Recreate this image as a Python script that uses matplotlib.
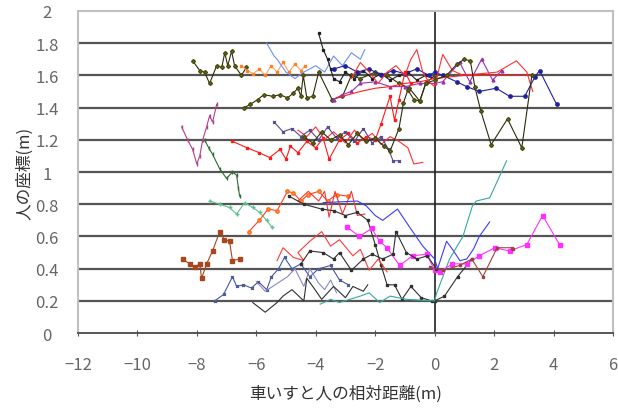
import matplotlib
matplotlib.use("Agg")
import matplotlib.pyplot as plt

plt.rcParams['font.family'] = ['Noto Sans CJK JP', 'DejaVu Sans']

# ---- data ----
olive_top_x = [-8.14, -7.9, -7.74, -7.57, -7.33, -7.16, -7.06, -6.96, -6.83, -6.73, -6.5, -6.33]
olive_top_y = [1.69, 1.63, 1.62, 1.55, 1.66, 1.65, 1.74, 1.66, 1.75, 1.66, 1.60, 1.65]

orange_x = [-6.5, -6.3, -6.1, -5.9, -5.7, -5.5, -5.3, -5.1, -4.9, -4.7, -4.5, -4.35]
orange_y = [1.66, 1.63, 1.61, 1.64, 1.60, 1.66, 1.62, 1.68, 1.62, 1.67, 1.63, 1.66]

lblue_x = [-5.65, -5.4, -5.3, -5.0, -4.7, -4.4, -4.0, -3.7, -3.4, -3.1, -2.8, -2.5, -2.35]
lblue_y = [1.80, 1.72, 1.70, 1.62, 1.58, 1.62, 1.66, 1.62, 1.72, 1.66, 1.74, 1.70, 1.76]

olive_mid_x = [-6.4, -6.2, -5.95, -5.75, -5.45, -5.2, -4.95, -4.75, -4.6, -4.5, -4.42, -4.3,
               -4.1, -3.9, -3.45, -3.1, -2.8, -2.5, -2.0, -1.6, -1.2, -0.85, -0.5, -0.3, 0.0]
olive_mid_y = [1.40, 1.42, 1.45, 1.48, 1.47, 1.48, 1.46, 1.49, 1.52, 1.47, 1.60, 1.46,
               1.47, 1.62, 1.45, 1.47, 1.60, 1.58, 1.62, 1.60, 1.55, 1.52, 1.44, 1.55, 1.60]

black_top_x = [-3.9, -3.75, -3.6, -3.5, -3.4, -3.2, -3.0, -2.7, -2.4, -2.1, -1.8, -1.5, -1.2, -0.9, -0.6, -0.3, 0.0]
black_top_y = [1.86, 1.76, 1.70, 1.64, 1.58, 1.56, 1.62, 1.58, 1.63, 1.58, 1.61, 1.57, 1.60, 1.62, 1.57, 1.60, 1.58]

navy_x = [-3.4, -3.0, -2.6, -2.2, -1.8, -1.4, -1.0, -0.6, -0.2, 0.0, 0.27, 0.74, 1.08, 1.5, 2.07, 2.52, 3.03, 3.37, 3.53, 4.1]
navy_y = [1.64, 1.66, 1.62, 1.64, 1.60, 1.63, 1.61, 1.64, 1.60, 1.62, 1.60, 1.56, 1.53, 1.50, 1.52, 1.47, 1.47, 1.59, 1.63, 1.42]

purple_x = [-3.4, -3.1, -2.8, -2.5, -2.0, -1.5, -1.0, -0.5, 0.0, 0.27, 0.84, 1.18, 1.58, 1.95, 2.25]
purple_y = [1.45, 1.48, 1.50, 1.55, 1.56, 1.53, 1.53, 1.55, 1.55, 1.56, 1.68, 1.56, 1.70, 1.57, 1.63]

red_up_x = [-2.8, -2.5, -2.2, -1.9, -1.6, -1.3, -1.0, -0.8, -0.6, -0.4, -0.2, 0.0, 0.27, 0.6, 0.95, 2.1, 2.75, 3.1, 3.3]
red_up_y = [1.58, 1.68, 1.62, 1.55, 1.62, 1.66, 1.60, 1.70, 1.76, 1.62, 1.56, 1.53, 1.73, 1.63, 1.60, 1.62, 1.69, 1.62, 1.50]

red_flat_x = [-3.3, -2.9, -2.5, -2.0, -1.5, -1.0, -0.5, 0.0, 1.0, 2.0, 3.0, 3.3]
red_flat_y = [1.46, 1.48, 1.50, 1.52, 1.53, 1.55, 1.56, 1.58, 1.60, 1.60, 1.60, 1.60]

red_e_x = [-6.8, -6.3, -5.9, -5.55, -5.2, -5.0, -4.85, -4.6, -4.3, -4.0, -3.75, -3.55, -3.2, -2.9,
           -2.6, -2.3, -2.0, -1.8, -1.5, -1.35, -1.2, -1.0, -0.8]
red_e_y = [1.19, 1.15, 1.12, 1.09, 1.14, 1.08, 1.16, 1.12, 1.19, 1.15, 1.21, 1.08, 1.20, 1.24,
           1.18, 1.22, 1.20, 1.30, 1.47, 1.32, 1.45, 1.62, 1.55]

red_f_x = [-4.6, -4.3, -4.0, -3.7, -3.4, -3.0, -2.7, -2.4, -2.1, -1.8, -1.5, -1.2, -0.9, -0.7, -0.4]
red_f_y = [1.26, 1.22, 1.28, 1.20, 1.25, 1.18, 1.26, 1.20, 1.24, 1.17, 1.22, 1.19, 1.15, 1.05, 1.06]

slate_x = [-5.4, -5.1, -4.8, -4.5, -4.2, -3.9, -3.6, -3.3, -3.0, -2.7, -2.4, -2.1, -1.8, -1.55, -1.4, -1.2]
slate_y = [1.31, 1.25, 1.27, 1.22, 1.26, 1.20, 1.28, 1.21, 1.25, 1.19, 1.27, 1.18, 1.22, 1.14, 1.07, 1.07]

olive_low_x = [-4.4, -4.1, -3.8, -3.5, -3.2, -2.9, -2.6, -2.3, -2.0, -1.7, -1.5, -1.2, -1.05, -0.9,
               -0.7, -0.5, -0.3, 0.0, 0.4, 0.75, 1.0, 1.2, 1.35, 1.55, 1.9, 2.45, 2.93, 3.27]
olive_low_y = [1.22, 1.18, 1.25, 1.20, 1.23, 1.17, 1.24, 1.19, 1.21, 1.16, 1.13, 1.27, 1.43, 1.51,
               1.45, 1.44, 1.55, 1.57, 1.60, 1.67, 1.70, 1.69, 1.53, 1.38, 1.17, 1.33, 1.15, 1.60]

plum_x = [-8.51, -8.31, -8.14, -8.0, -7.9, -7.8, -7.67, -7.57, -7.47, -7.33]
plum_y = [1.28, 1.20, 1.14, 1.05, 1.10, 1.20, 1.28, 1.35, 1.31, 1.42]

dgreen_x = [-7.74, -7.6, -7.47, -7.23, -7.0, -6.8, -6.66, -6.6, -6.56]
dgreen_y = [1.20, 1.15, 1.11, 1.02, 0.96, 1.00, 0.98, 0.90, 0.85]

sgreen_x = [-7.57, -7.23, -6.9, -6.66, -6.39, -6.12, -5.89, -5.65, -5.48]
sgreen_y = [0.82, 0.80, 0.78, 0.74, 0.81, 0.78, 0.75, 0.70, 0.66]

orange_mid_x = [-6.25, -5.9, -5.6, -5.3, -4.95, -4.75, -4.5, -4.25, -3.9, -3.6, -3.3, -2.9]
orange_mid_y = [0.63, 0.70, 0.77, 0.76, 0.88, 0.87, 0.82, 0.86, 0.88, 0.82, 0.86, 0.85]

red_mid_x = [-4.6, -4.25, -3.9, -3.7, -3.55, -3.35, -3.1, -2.8, -2.6, -2.35]
red_mid_y = [0.82, 0.88, 0.82, 0.88, 0.72, 0.88, 0.74, 0.88, 0.73, 0.74]

black_mid_x = [-4.9, -4.4, -3.8, -3.4, -3.0, -2.6, -2.25, -2.0, -1.8, -1.6, -1.35, -1.1, -0.8, -0.45, -0.1,
               0.0, 0.33, 0.77, 1.25]
black_mid_y = [0.85, 0.80, 0.77, 0.76, 0.73, 0.75, 0.70, 0.55, 0.42, 0.30, 0.30, 0.21, 0.29, 0.22, 0.20,
               0.20, 0.23, 0.35, 0.46]

blue_x = [-3.75, -2.6, -2.3, -2.0, -1.75, -1.25, -0.85, -0.4, 0.0, 0.1, 0.4, 0.6, 0.85, 1.08, 1.3, 1.5, 1.85]
blue_y = [0.81, 0.82, 0.79, 0.73, 0.70, 0.77, 0.66, 0.54, 0.46, 0.40, 0.57, 0.52, 0.45, 0.46, 0.52, 0.60, 0.69]

teal_x = [-3.85, -3.5, -3.2, -2.5, -2.2, -1.85, -1.5, -0.95, 0.0, 0.07, 0.5, 0.95, 1.27, 1.4, 1.85, 2.1, 2.42]
teal_y = [0.18, 0.21, 0.19, 0.23, 0.25, 0.19, 0.23, 0.21, 0.20, 0.25, 0.46, 0.60, 0.79, 0.82, 0.84, 0.94, 1.07]

magenta_x = [-2.96, -2.53, -2.12, -1.85, -1.6, -1.18, -0.74, -0.27, 0.0, 0.17, 0.6, 1.08, 1.5, 2.02, 2.52, 3.1, 3.63, 4.2]
magenta_y = [0.66, 0.60, 0.65, 0.57, 0.53, 0.42, 0.48, 0.49, 0.39, 0.38, 0.43, 0.43, 0.48, 0.53, 0.51, 0.55, 0.73, 0.55]

brown_x = [-8.48, -8.24, -8.07, -7.9, -7.84, -7.67, -7.47, -7.23, -7.07, -6.9, -6.8, -6.56]
brown_y = [0.46, 0.43, 0.41, 0.43, 0.34, 0.43, 0.51, 0.63, 0.58, 0.57, 0.45, 0.46]

slateblue_x = [-7.4, -7.1, -6.8, -6.66, -6.43, -6.16, -5.93, -5.65, -5.49, -5.25, -5.05, -4.8, -4.5,
               -4.2, -3.9, -3.5, -3.2, -2.9]
slateblue_y = [0.20, 0.24, 0.35, 0.29, 0.30, 0.28, 0.32, 0.27, 0.35, 0.40, 0.47, 0.40, 0.43,
               0.35, 0.40, 0.42, 0.33, 0.30]

lavender_x = [-6.0, -5.7, -4.95, -4.7, -4.4, -4.2, -3.9, -3.7, -3.5, -3.3]
lavender_y = [0.32, 0.26, 0.35, 0.40, 0.29, 0.40, 0.31, 0.27, 0.33, 0.25]

black_low_x = [-6.12, -5.7, -5.3, -5.1, -4.8, -4.4, -4.3, -4.1, -3.8, -3.4, -3.0, -2.75, -2.4, -2.25]
black_low_y = [0.19, 0.13, 0.19, 0.23, 0.27, 0.20, 0.34, 0.29, 0.21, 0.29, 0.22, 0.29, 0.26, 0.30]

red_low_x = [-5.3, -5.1, -4.75, -4.4, -4.6, -4.2, -3.8, -3.5, -3.2, -2.75, -2.5, -2.2, -1.9, -1.6]
red_low_y = [0.45, 0.53, 0.47, 0.45, 0.50, 0.57, 0.63, 0.54, 0.58, 0.48, 0.52, 0.39, 0.46, 0.38]

black_sq_x = [-4.5, -4.2, -3.75, -3.4, -3.2, -2.8, -2.4, -2.1, -1.75, -1.4, -1.3, -0.95, -0.6, -0.25, 0.05]
black_sq_y = [0.43, 0.51, 0.50, 0.46, 0.50, 0.39, 0.46, 0.49, 0.46, 0.49, 0.63, 0.50, 0.46, 0.48, 0.40]

maroon_x = [-0.17, 0.27, 0.84, 1.25, 1.62, 2.1, 2.6, 2.65]
maroon_y = [0.41, 0.39, 0.42, 0.46, 0.35, 0.53, 0.53, 0.52]

x_ticks = [-12, -10, -8, -6, -4, -2, 0, 2, 4, 6]
x_tick_labels = ['\u221212', '\u221210', '\u22128', '\u22126', '\u22124', '\u22122', '0', '2', '4', '6']
y_ticks = [0, 0.2, 0.4, 0.6, 0.8, 1, 1.2, 1.4, 1.6, 1.8, 2]
y_tick_labels = ['0', '0.2', '0.4', '0.6', '0.8', '1', '1.2', '1.4', '1.6', '1.8', '2']

olive = dict(color='#2b2b0a', marker='D', ms=2.0, mfc='#6b6b1a', mec='#4b4b10')
series = [
    (olive_top_x, olive_top_y, olive),
    (orange_x, orange_y, dict(color='#ffa060', marker='s', ms=1.8, mfc='#ff8020', mec='#ff8020')),
    (lblue_x, lblue_y, dict(color='#6f8ff0')),
    (olive_mid_x, olive_mid_y, olive),
    (black_top_x, black_top_y, dict(color='#202020', marker='s', ms=1.4)),
    (navy_x, navy_y, dict(color='#2020a0', marker='o', ms=2.4)),
    (purple_x, purple_y, dict(color='#9a30b0', marker='^', ms=2.0)),
    (red_up_x, red_up_y, dict(color='#ff3030')),
    (red_flat_x, red_flat_y, dict(color='#ff2020')),
    (red_e_x, red_e_y, dict(color='#ff1a1a', marker='s', ms=1.8)),
    (red_f_x, red_f_y, dict(color='#ff3030')),
    (slate_x, slate_y, dict(color='#5a4a90', marker='x', ms=2.0)),
    (olive_low_x, olive_low_y, olive),
    (plum_x, plum_y, dict(color='#b0408f', marker='|', ms=3.5)),
    (dgreen_x, dgreen_y, dict(color='#2e6b30', marker='|', ms=3.5)),
    (sgreen_x, sgreen_y, dict(color='#60c090', marker='+', ms=2.5)),
    (orange_mid_x, orange_mid_y, dict(color='#ff4020', marker='o', ms=2.4, mfc='#ff9a20', mec='#ff6a20')),
    (red_mid_x, red_mid_y, dict(color='#ff3030')),
    (black_mid_x, black_mid_y, dict(color='#303030', marker='s', ms=1.8)),
    (blue_x, blue_y, dict(color='#3a3aff')),
    (teal_x, teal_y, dict(color='#35a8a0')),
    (magenta_x, magenta_y, dict(color='#ff30ff', marker='s', ms=2.5)),
    (brown_x, brown_y, dict(color='#a8461e', marker='s', ms=2.4)),
    (slateblue_x, slateblue_y, dict(color='#4a5a9a', marker='x', ms=2.0)),
    (lavender_x, lavender_y, dict(color='#8a88c8')),
    (black_low_x, black_low_y, dict(color='#303030')),
    (red_low_x, red_low_y, dict(color='#ff3a3a')),
    (black_sq_x, black_sq_y, dict(color='#303030', marker='s', ms=2.0)),
    (maroon_x, maroon_y, dict(color='#a04040', marker='s', ms=2.0)),
]

fig = plt.figure(figsize=(6.18, 4.10), dpi=100)
ax = fig.add_axes([0.126, 0.185, 0.866, 0.786])

for yv in y_ticks[1:-1]:
    ax.axhline(yv, color='#555555', lw=1.6, zorder=1)
ax.axvline(0, color='#202020', lw=1.2, zorder=1)

for xs, ys, st in series:
    ax.plot(xs, ys, lw=0.8, zorder=3, **st)

ax.set_xlim(-12, 6)
ax.set_ylim(0, 2)
ax.set_xticks(x_ticks)
ax.set_xticklabels(x_tick_labels)
ax.set_yticks(y_ticks)
ax.set_yticklabels(y_tick_labels)
ax.tick_params(axis='x', direction='inout', length=5, color='#555555', labelsize=12,
               labelcolor='#666666', pad=14)
ax.tick_params(axis='y', length=0, labelsize=12, labelcolor='#666666', pad=22)
for lbl in ax.get_yticklabels():
    lbl.set_horizontalalignment('center')

for side in ['top', 'right', 'left']:
    ax.spines[side].set_color('#c0c0c0')
    ax.spines[side].set_linewidth(1.5)
ax.spines['bottom'].set_color('#555555')
ax.spines['bottom'].set_linewidth(1.4)

ax.set_xlabel('車いすと人の相対距離(m)', fontsize=12, color='#333333', labelpad=8)
ax.set_ylabel('人の座標(m)', fontsize=12, color='#333333', labelpad=2)

fig.savefig('out.png', dpi=100)
